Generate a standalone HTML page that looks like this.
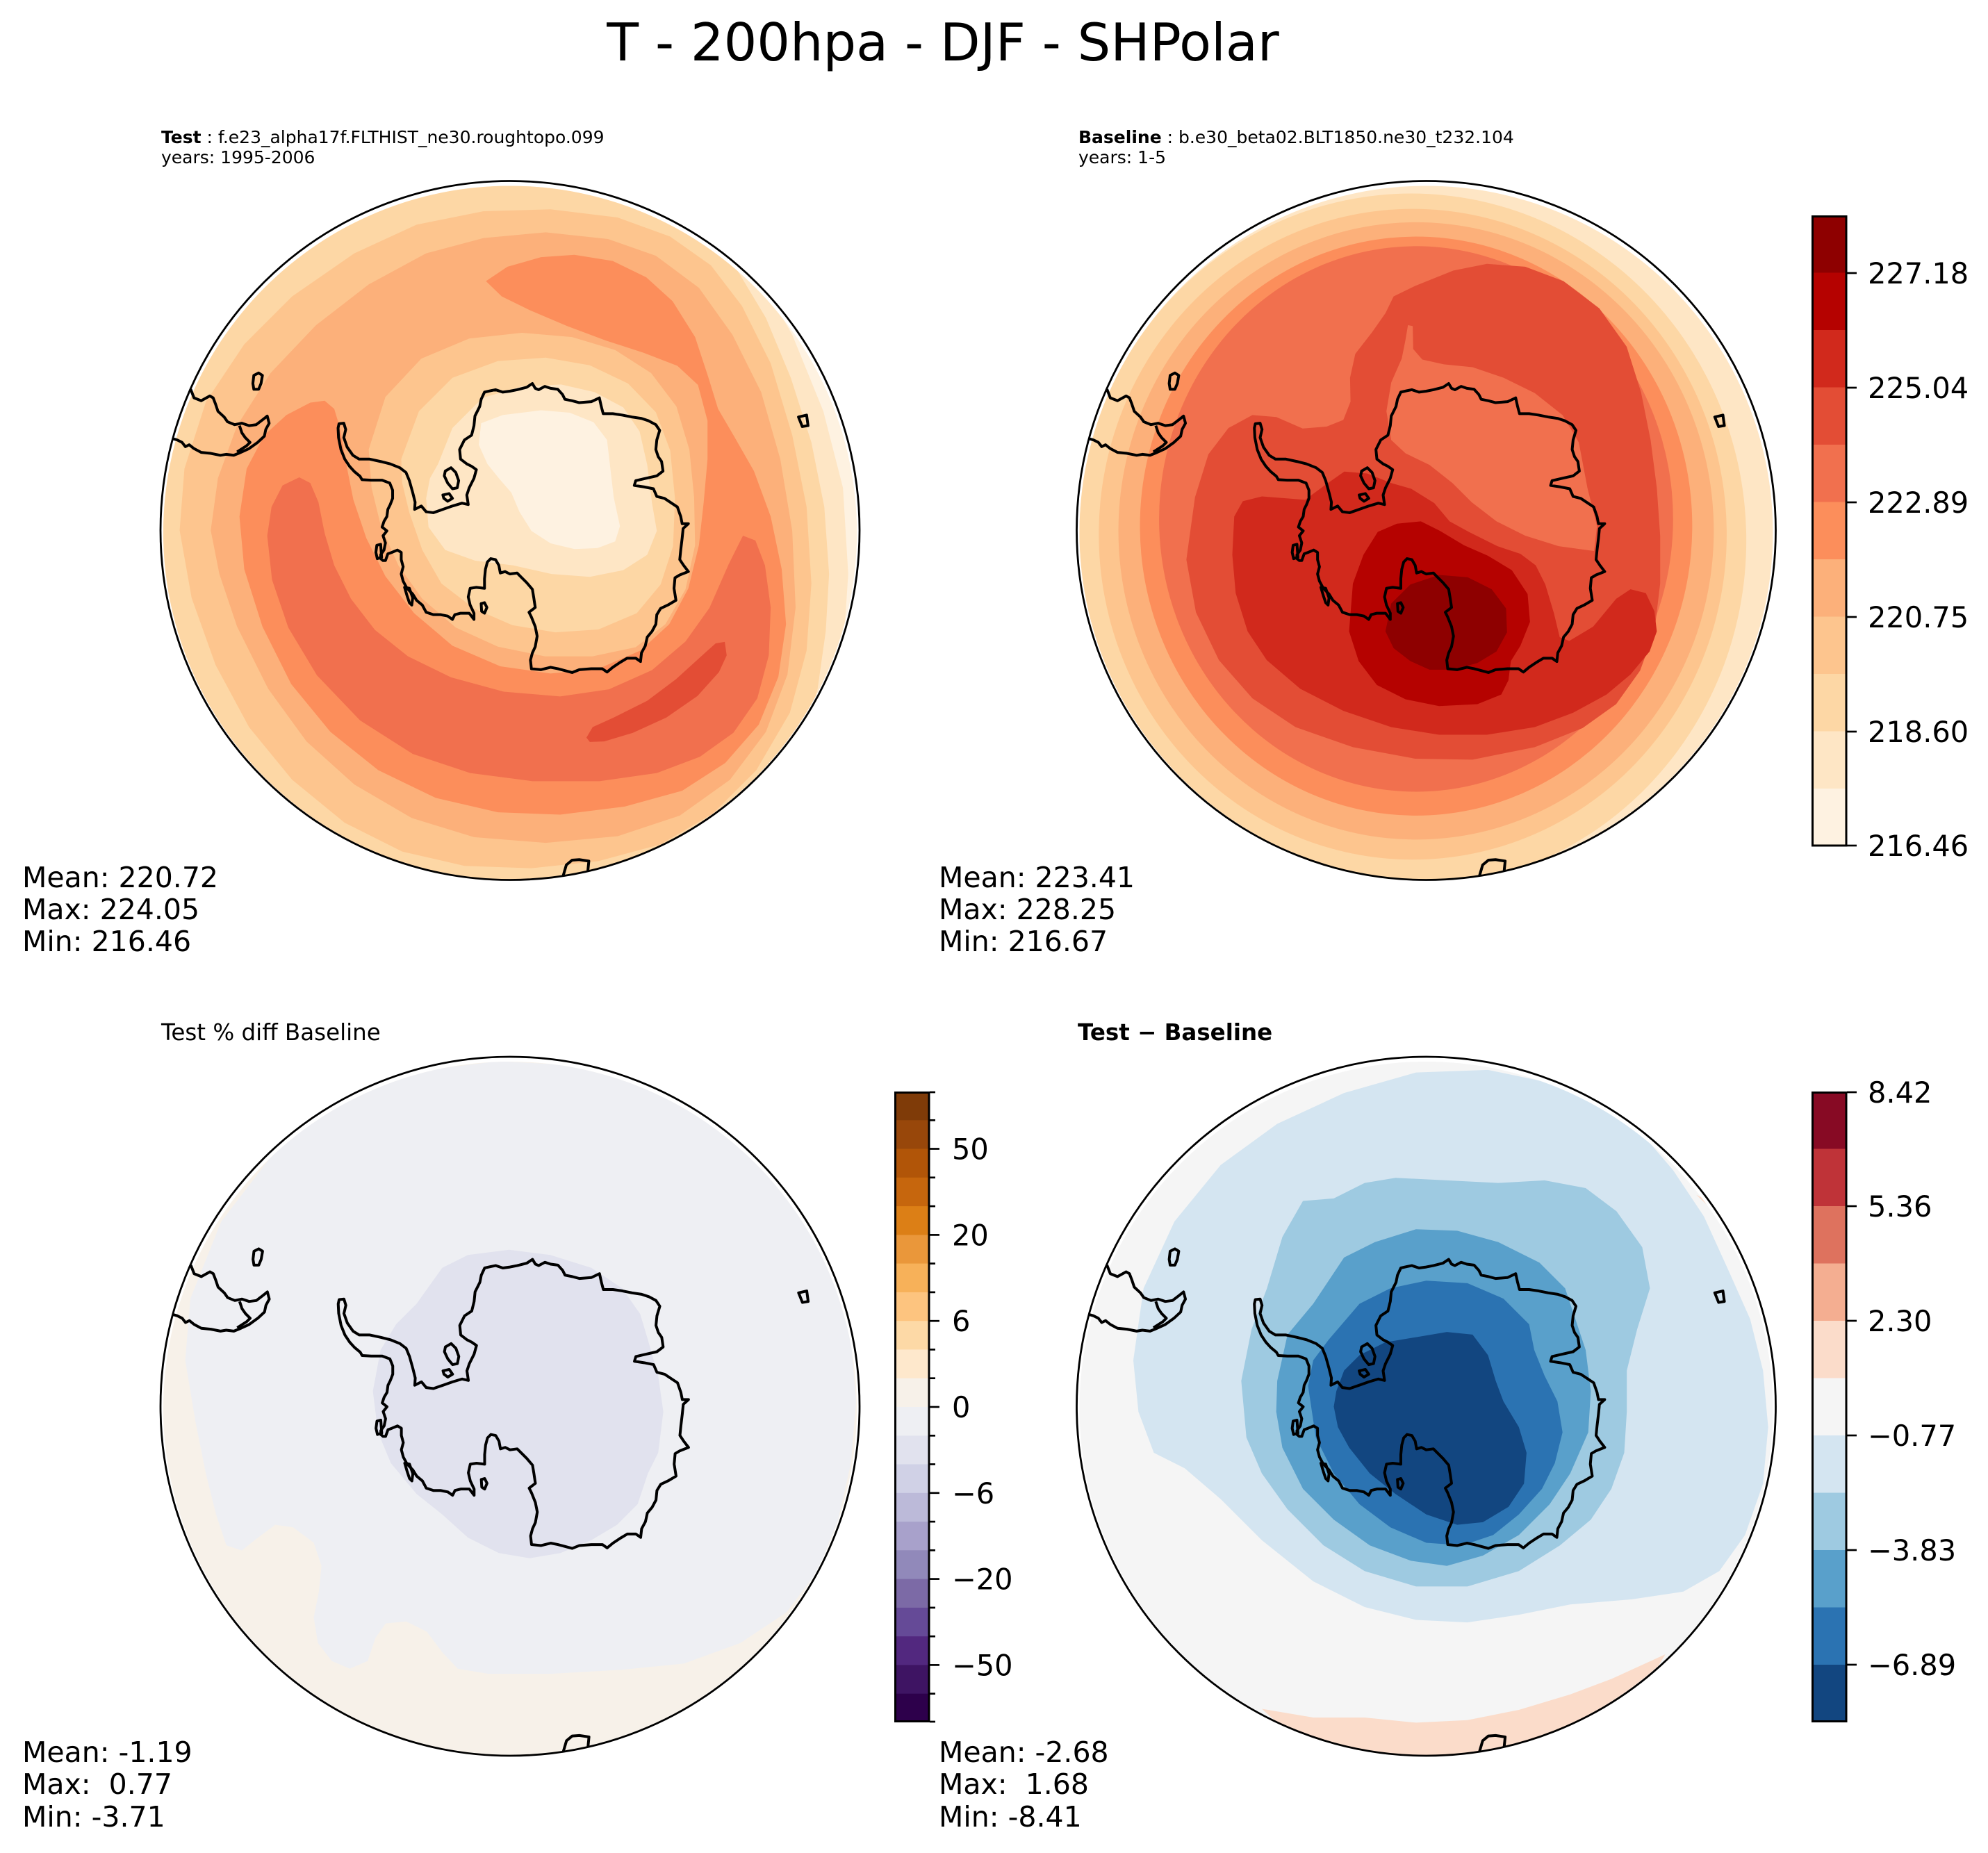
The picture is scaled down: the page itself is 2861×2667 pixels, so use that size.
<!DOCTYPE html>
<html><head><meta charset="utf-8"><style>
html,body{margin:0;padding:0;background:#fff;}
svg{display:block;}
text{font-family:"DejaVu Sans","Liberation Sans",sans-serif;fill:#000;}
</style></head><body>
<svg width="2861" height="2667" viewBox="0 0 2861 2667" xmlns="http://www.w3.org/2000/svg">
<defs>
<clipPath id="cTL"><circle cx="734" cy="766.5" r="499"/></clipPath>
<clipPath id="cTR"><circle cx="2052.5" cy="766.5" r="499"/></clipPath>
<clipPath id="cBL"><circle cx="734" cy="2027" r="499"/></clipPath>
<clipPath id="cBR"><circle cx="2052.5" cy="2027" r="499"/></clipPath>
<clipPath id="oTL"><circle cx="734" cy="763.5" r="503"/></clipPath>
<clipPath id="oTR"><circle cx="2052.5" cy="763.5" r="503"/></clipPath>
<clipPath id="oBL"><circle cx="734" cy="2024" r="503"/></clipPath>
<clipPath id="oBR"><circle cx="2052.5" cy="2024" r="503"/></clipPath>
<g id="coast" fill="none" stroke="#000" stroke-width="5.8" stroke-linejoin="round">
<path d="M418,566 L428,565 L432,578 L428,595 L435,615 L447,632 L460,640 L482,640 L505,645 L525,650 L545,658 L558,668 L565,685 L572,710 L577,730 L576,745 L590,738 L600,750 L615,752 L635,745 L655,738 L675,732 L688,735 L685,715 L690,700 L700,680 L705,662 L695,655 L685,650 L672,640 L670,620 L680,600 L695,590 L700,570 L702,550 L712,530 L715,515 L722,500 L735,497 L745,495 L760,500 L775,498 L790,495 L810,490 L822,482 L828,492 L835,495 L848,488 L860,492 L875,494 L885,505 L890,515 L905,518 L920,522 L945,520 L962,512 L966,530 L970,545 L990,545 L1010,548 L1030,552 L1050,555 L1065,560 L1080,568 L1088,580 L1082,600 L1080,620 L1085,635 L1092,645 L1095,665 L1082,675 L1060,680 L1038,685 L1035,695 L1055,698 L1075,702 L1082,718 L1098,722 L1110,730 L1125,740 L1132,760 L1135,775 L1148,775 L1137,785 L1135,805 L1132,830 L1130,850 L1138,862 L1148,875 L1130,882 L1120,888 L1118,910 L1122,935 L1105,945 L1090,952 L1082,965 L1080,985 L1072,1000 L1062,1012 L1058,1030 L1050,1045 L1048,1063 L1038,1056 L1020,1056 L1005,1065 L990,1075 L978,1085 L968,1078 L945,1078 L920,1080 L905,1086 L890,1082 L875,1078 L860,1075 L840,1080 L820,1078 L818,1060 L822,1045 L828,1032 L832,1010 L828,990 L820,970 L815,960 L828,950 L825,930 L822,912 L810,898 L800,888 L790,878 L775,880 L765,875 L755,878 L752,862 L745,850 L735,848 L728,855 L724,870 L722,890 L722,910 L705,908 L692,910 L688,928 L692,945 L700,962 L700,975 L690,962 L672,962 L660,965 L655,975 L645,968 L630,965 L615,965 L600,960 L592,945 L580,935 L572,922 L560,910 L552,895 L548,880 L552,865 L548,850 L548,835 L540,830 L528,835 L520,838 L515,852 L510,852 L505,848 L505,840 L512,830 L515,815 L510,800 L518,790 L508,782 L512,770 L518,760 L520,745 L525,735 L530,722 L530,705 L524,690 L508,684 L485,684 L466,683 L462,676 L450,666 L440,655 L430,640 L422,620 L417,595 L416,575 Z"/>
<path d="M640,665 L652,658 L662,668 L668,685 L665,700 L655,702 L645,690 L638,675 Z"/>
<path d="M635,715 L648,712 L655,722 L645,728 L637,722 Z"/>
<path d="M497,820 L505,818 L507,845 L498,848 L495,835 Z"/>
<path d="M555,908 L565,910 L572,930 L570,945 L565,940 L560,925 Z"/>
<path d="M715,942 L722,940 L727,950 L722,962 L716,958 Z"/>
<path d="M108,494 L115,512 L130,518 L148,508 L155,512 L160,525 L165,540 L178,552 L185,562 L200,568 L215,565 L230,570 L245,568 L258,558 L268,550 L272,565 L265,578 L262,592 L248,605 L230,618 L208,628 L198,632 L182,630 L170,632 L150,628 L130,626 L115,618 L105,610 L97,614 L90,605 L80,600 L66,596"/>
<path d="M210,570 L215,585 L222,595 L232,605 L225,612 L205,625"/>
<path d="M240,465 L250,460 L258,465 L255,482 L250,494 L240,494 L238,482 Z"/>
<path d="M1378,552 L1395,548 L1398,570 L1386,572 Z"/>
<path d="M886,1512 L893,1488 L905,1478 L920,1477 L940,1480 L938,1500"/>
</g>
</defs>

<!-- Title -->
<text x="1357" y="87" text-anchor="middle" font-size="75">T - 200hpa - DJF - SHPolar</text>

<!-- Headers -->
<text x="232" y="206" font-size="25"><tspan font-weight="bold">Test</tspan> : f.e23_alpha17f.FLTHIST_ne30.roughtopo.099</text>
<text x="232" y="235" font-size="25">years: 1995-2006</text>
<text x="1552" y="206" font-size="25"><tspan font-weight="bold">Baseline</tspan> : b.e30_beta02.BLT1850.ne30_t232.104</text>
<text x="1552" y="235" font-size="25">years: 1-5</text>
<text x="232" y="1497" font-size="32.5">Test % diff Baseline</text>
<text x="1551" y="1497" font-size="32.5" font-weight="bold">Test − Baseline</text>

<!-- ============ TOP-LEFT MAP ============ -->
<g clip-path="url(#cTL)">
<g transform="translate(200,220) scale(0.68875)">
<circle cx="775" cy="789" r="760" fill="#fee6c5"/>
<path fill="#fef2e1" d="M1290,250 L1365,380 L1430,540 L1471,700 L1482,880 L1472,1030 L1540,1030 L1540,250 Z"/>
<path fill="#fdd7a5" d="M30,789 L40,600 L100,430 L200,300 L320,200 L460,120 L600,80 L760,68 L900,72 L1040,100 L1160,160 L1250,245 L1310,345 L1362,470 L1405,605 L1432,740 L1442,880 L1435,1000 L1418,1120 L1385,1240 L1325,1350 L1240,1440 L1120,1510 L980,1545 L775,1560 L560,1530 L400,1470 L260,1370 L150,1240 L70,1080 L35,940 Z"/>
<path fill="#fdc58e" d="M85,789 L95,660 L140,520 L220,400 L320,300 L450,210 L580,150 L720,122 L860,118 L1000,135 L1110,175 L1195,235 L1260,320 L1320,440 L1365,590 L1395,740 L1405,900 L1395,1040 L1360,1170 L1290,1290 L1200,1380 L1090,1445 L960,1480 L820,1495 L680,1490 L550,1460 L430,1400 L320,1310 L230,1200 L160,1070 L110,930 Z"/>
<path fill="#fcb07a" d="M150,789 L165,680 L205,570 L275,460 L370,360 L480,275 L600,210 L720,178 L850,166 L980,180 L1080,215 L1170,282 L1240,380 L1300,500 L1340,640 L1365,790 L1372,950 L1355,1090 L1310,1210 L1235,1310 L1130,1385 L1000,1428 L850,1442 L700,1430 L570,1390 L450,1320 L350,1230 L270,1120 L205,990 L168,880 Z"/>
<path fill="#fc8e5b" d="M725,268 L770,238 L840,218 L910,213 L990,226 L1060,260 L1115,310 L1162,385 L1190,470 L1210,535 L1245,595 L1285,665 L1320,760 L1343,870 L1352,985 L1336,1095 L1295,1195 L1225,1275 L1135,1333 L1015,1366 L880,1383 L750,1378 L620,1348 L500,1290 L400,1210 L318,1110 L258,990 L220,870 L210,760 L225,660 L262,590 L308,548 L358,522 L388,518 L408,535 L420,575 L432,645 L448,725 L475,805 L515,885 L575,962 L655,1030 L755,1073 L860,1088 L960,1078 L1048,1040 L1108,985 L1148,910 L1170,820 L1180,730 L1188,640 L1188,560 L1168,485 L1125,445 L1055,418 L975,392 L895,362 L815,328 L758,300 Z"/>
<path fill="#f1704e" d="M300,695 L335,678 L358,690 L375,730 L388,795 L408,862 L443,932 L493,997 L562,1052 L652,1096 L762,1126 L880,1136 L982,1121 L1072,1081 L1142,1021 L1192,951 L1232,860 L1262,800 L1288,810 L1308,862 L1320,950 L1316,1050 L1292,1140 L1242,1212 L1172,1262 L1082,1296 L962,1313 L822,1313 L692,1296 L572,1256 L462,1186 L372,1092 L312,992 L278,892 L268,800 L277,740 Z"/>
<path fill="#e34d35" d="M935,1222 L948,1200 L992,1180 L1062,1145 L1122,1100 L1177,1050 L1205,1025 L1224,1022 L1228,1050 L1212,1085 L1167,1135 L1102,1180 L1032,1212 L972,1230 L942,1231 Z"/>
<path fill="#fdc58e" d="M480,620 L515,510 L590,430 L690,388 L800,376 L905,385 L995,412 L1070,460 L1123,530 L1150,620 L1160,720 L1162,820 L1142,912 L1100,985 L1038,1033 L948,1052 L848,1052 L750,1032 L662,992 L592,932 L542,862 L506,782 L486,700 Z"/>
<path fill="#fdd7a5" d="M548,640 L585,540 L655,470 L750,435 L850,428 L942,444 L1022,482 L1080,542 L1110,622 L1120,722 L1116,822 L1090,902 L1040,962 L960,996 L870,1002 L780,987 L700,952 L632,900 L592,830 L565,752 L550,690 Z"/>
<path fill="#fee6c5" d="M625,650 L655,575 L718,512 L800,488 L882,484 L952,500 L1012,532 L1046,582 L1062,652 L1072,732 L1082,790 L1062,840 L1012,872 L942,886 L862,880 L782,862 L702,852 L640,830 L605,782 L600,722 L608,680 Z"/>
<path fill="#fef2e1" d="M715,565 L760,548 L840,538 L900,543 L950,563 L978,600 L985,660 L992,720 L1005,780 L995,812 L958,826 L910,828 L860,816 L820,790 L795,750 L778,710 L752,680 L728,650 L710,610 Z"/>
</g>
</g>
<g clip-path="url(#oTL)"><use href="#coast" transform="translate(200,220) scale(0.68875)"/></g>
<circle cx="734" cy="763.5" r="503" fill="none" stroke="#000" stroke-width="2.8"/>

<!-- ============ TOP-RIGHT MAP ============ -->
<g clip-path="url(#cTR)">
<g transform="translate(1520,220) scale(0.68875)">
<circle cx="773" cy="789" r="760" fill="#fee6c5"/>
<ellipse cx="742" cy="810" rx="700" ry="725" fill="#fdd7a5"/>
<ellipse cx="745" cy="797" rx="656" ry="680" fill="#fdc58e"/>
<ellipse cx="752" cy="790" rx="622" ry="645" fill="#fcb07a"/>
<ellipse cx="752" cy="780" rx="577" ry="605" fill="#fc8e5b"/>
<ellipse cx="752" cy="765" rx="537" ry="570" fill="#f1704e"/>
<path fill="#e34d35" d="M290,720 L318,630 L360,575 L410,548 L460,552 L515,576 L565,572 L600,558 L615,520 L614,470 L625,420 L660,375 L688,335 L705,300 L750,278 L830,246 L900,232 L980,238 L1060,268 L1135,325 L1192,405 L1222,500 L1242,600 L1255,700 L1262,800 L1262,900 L1250,1000 L1220,1082 L1170,1152 L1100,1202 L1000,1242 L870,1268 L750,1266 L620,1242 L500,1200 L410,1140 L340,1060 L292,960 L272,850 Z"/>
<path fill="#f1704e" d="M735,360 L745,362 L746,410 L765,432 L810,442 L870,448 L935,470 L1000,502 L1058,548 L1092,605 L1110,700 L1130,780 L1124,832 L1050,822 L980,800 L920,770 L868,730 L828,690 L780,652 L730,628 L700,600 L690,540 L700,480 L722,430 L730,390 Z"/>
<path fill="#d1291c" d="M368,840 L372,760 L390,728 L430,718 L520,725 L565,692 L602,666 L650,670 L700,690 L742,702 L790,732 L822,770 L862,792 L922,822 L970,838 L1002,862 L1022,902 L1040,962 L1052,1012 L1072,1020 L1122,990 L1170,932 L1200,912 L1232,920 L1250,958 L1255,1000 L1240,1042 L1200,1090 L1150,1132 L1080,1170 L1000,1200 L900,1216 L800,1216 L700,1200 L600,1166 L510,1120 L440,1060 L400,1000 L375,920 Z"/>
<path fill="#b50200" d="M612,1000 L620,900 L642,840 L672,792 L712,775 L762,770 L802,790 L852,820 L902,842 L952,872 L985,922 L990,980 L970,1030 L950,1062 L945,1102 L930,1132 L880,1152 L800,1156 L730,1142 L670,1112 L632,1062 Z"/>
<path fill="#8e0000" d="M688,1000 L700,942 L740,902 L800,882 L860,887 L910,912 L940,952 L942,1002 L920,1042 L880,1066 L830,1080 L780,1080 L740,1062 L705,1035 Z"/>
</g>
</g>
<g clip-path="url(#oTR)"><use href="#coast" transform="translate(1518.7,220) scale(0.68875)"/></g>
<circle cx="2052.5" cy="763.5" r="503" fill="none" stroke="#000" stroke-width="2.8"/>

<!-- ============ BOTTOM-LEFT MAP ============ -->
<g clip-path="url(#cBL)">
<g transform="translate(200,1440) scale(0.73981)">
<circle cx="722" cy="789" r="720" fill="#f7f1e9"/>
<path fill="#eeeff3" d="M90,700 L100,580 L160,430 L260,300 L380,200 L520,140 L700,118 L880,128 L1040,165 L1150,215 L1230,300 L1300,420 L1350,540 L1385,660 L1395,780 L1385,900 L1360,1010 L1320,1110 L1260,1190 L1170,1250 L1060,1290 L940,1302 L800,1310 L680,1310 L620,1300 L590,1268 L560,1228 L520,1208 L480,1212 L460,1240 L445,1285 L410,1300 L375,1285 L348,1250 L340,1200 L350,1150 L355,1100 L340,1055 L300,1025 L265,1020 L225,1050 L200,1070 L170,1060 L150,1000 L130,920 L110,820 Z"/>
<path fill="#e1e2ee" d="M455,760 L470,680 L500,630 L540,590 L590,520 L640,495 L720,485 L800,495 L880,520 L940,560 L975,610 L990,660 L1010,730 L1020,800 L1010,880 L990,920 L970,980 L930,1020 L880,1050 L820,1075 L760,1085 L700,1075 L640,1045 L590,1000 L540,960 L490,900 L465,840 Z"/>
</g>
</g>
<g clip-path="url(#oBL)"><use href="#coast" transform="translate(200.2,1480.6) scale(0.68875)"/></g>
<circle cx="734" cy="2024" r="503" fill="none" stroke="#000" stroke-width="2.8"/>

<!-- ============ BOTTOM-RIGHT MAP ============ -->
<g clip-path="url(#cBR)">
<g transform="translate(1520,1440) scale(0.73981)">
<circle cx="720" cy="789" r="720" fill="#f5f5f5"/>
<path fill="#fbdcca" d="M400,1378 L500,1395 L600,1395 L700,1405 L800,1400 L900,1380 L1000,1350 L1080,1320 L1185,1272 L1150,1330 L1050,1400 L950,1450 L850,1475 L720,1490 L600,1480 L480,1450 Z"/>
<path fill="#fbdcca" d="M1245,378 L1290,420 L1322,480 L1346,540 L1356,565 L1380,560 L1340,470 L1290,400 Z"/>
<path fill="#d4e5f1" d="M150,700 L170,560 L230,430 L320,320 L430,240 L560,180 L700,140 L840,135 L960,160 L1060,200 L1140,260 L1200,330 L1260,420 L1310,530 L1350,620 L1375,720 L1385,830 L1375,940 L1340,1040 L1290,1110 L1220,1150 L1120,1165 L1000,1175 L900,1195 L800,1210 L700,1205 L600,1180 L500,1130 L400,1050 L320,970 L250,910 L190,880 L160,800 Z"/>
<path fill="#9ecae1" d="M360,740 L380,640 L410,560 L440,460 L480,390 L540,385 L600,355 L660,345 L760,350 L860,355 L950,350 L1030,365 L1090,410 L1140,480 L1155,560 L1130,640 L1110,720 L1110,800 L1105,880 L1080,950 L1040,1010 L980,1060 L900,1110 L800,1140 L700,1140 L600,1110 L520,1060 L450,990 L400,920 L370,850 Z"/>
<path fill="#59a0cb" d="M430,740 L450,650 L500,590 L560,500 L620,470 L700,445 L780,448 L860,470 L940,510 L990,560 L1010,620 L1030,680 L1040,760 L1035,840 L1000,920 L960,980 L900,1040 L830,1080 L760,1100 L690,1090 L610,1060 L540,1010 L480,950 L440,870 L428,800 Z"/>
<path fill="#2b73b2" d="M490,750 L500,700 L530,660 L590,590 L650,560 L720,545 L800,550 L870,580 L920,630 L930,680 L950,730 L975,780 L985,840 L970,900 L945,950 L900,1000 L850,1040 L790,1060 L720,1055 L650,1025 L590,980 L540,920 L505,850 Z"/>
<path fill="#124680" d="M540,790 L545,760 L560,720 L590,690 L640,665 L700,655 L760,645 L810,650 L840,690 L855,740 L870,780 L900,830 L915,880 L910,940 L880,985 L830,1015 L780,1020 L720,1000 L660,960 L610,920 L570,870 L548,830 Z"/>
</g>
</g>
<g clip-path="url(#oBR)"><use href="#coast" transform="translate(1518.7,1480.6) scale(0.68875)"/></g>
<circle cx="2052.5" cy="2024" r="503" fill="none" stroke="#000" stroke-width="2.8"/>

<!-- ============ COLORBAR TOP-RIGHT (OrRd) ============ -->
<g>
<rect x="2608" y="310" width="50" height="83" fill="#8e0000"/>
<rect x="2608" y="392.5" width="50" height="83" fill="#b50200"/>
<rect x="2608" y="475" width="50" height="83" fill="#d1291c"/>
<rect x="2608" y="557.5" width="50" height="83" fill="#e34d35"/>
<rect x="2608" y="640" width="50" height="83" fill="#f1704e"/>
<rect x="2608" y="722.5" width="50" height="83" fill="#fc8e5b"/>
<rect x="2608" y="805" width="50" height="83" fill="#fcb07a"/>
<rect x="2608" y="887.5" width="50" height="83" fill="#fdc58e"/>
<rect x="2608" y="970" width="50" height="83" fill="#fdd7a5"/>
<rect x="2608" y="1052.5" width="50" height="83" fill="#fee6c5"/>
<rect x="2608" y="1135" width="50" height="83" fill="#fef2e1"/>
<rect x="2608.5" y="311.5" width="48.5" height="905.5" fill="none" stroke="#000" stroke-width="3"/>
<g stroke="#000" stroke-width="2.7">
<line x1="2658" y1="393" x2="2672" y2="393"/>
<line x1="2658" y1="558" x2="2672" y2="558"/>
<line x1="2658" y1="723" x2="2672" y2="723"/>
<line x1="2658" y1="888" x2="2672" y2="888"/>
<line x1="2658" y1="1053" x2="2672" y2="1053"/>
<line x1="2658" y1="1217" x2="2672" y2="1217"/>
</g>
<g font-size="41.5">
<text x="2688" y="408">227.18</text>
<text x="2688" y="573">225.04</text>
<text x="2688" y="738">222.89</text>
<text x="2688" y="903">220.75</text>
<text x="2688" y="1068">218.60</text>
<text x="2688" y="1232">216.46</text>
</g>
</g>

<!-- ============ COLORBAR BOTTOM-LEFT (PuOr) ============ -->
<g>
<rect x="1288" y="1571" width="50" height="42" fill="#7f3b08"/>
<rect x="1288" y="1612.3" width="50" height="42" fill="#98470a"/>
<rect x="1288" y="1653.5" width="50" height="42" fill="#b15508"/>
<rect x="1288" y="1694.8" width="50" height="42" fill="#c6660d"/>
<rect x="1288" y="1736.1" width="50" height="42" fill="#dc7f16"/>
<rect x="1288" y="1777.4" width="50" height="42" fill="#ea973a"/>
<rect x="1288" y="1818.6" width="50" height="42" fill="#f7b159"/>
<rect x="1288" y="1859.9" width="50" height="42" fill="#fdc47f"/>
<rect x="1288" y="1901.2" width="50" height="42" fill="#fdd9a6"/>
<rect x="1288" y="1942.4" width="50" height="42" fill="#fee8cc"/>
<rect x="1288" y="1983.7" width="50" height="42" fill="#f7f1e9"/>
<rect x="1288" y="2025" width="50" height="42" fill="#eeeff3"/>
<rect x="1288" y="2066.3" width="50" height="42" fill="#e1e2ee"/>
<rect x="1288" y="2107.5" width="50" height="42" fill="#d0d1e6"/>
<rect x="1288" y="2148.8" width="50" height="42" fill="#bcbad9"/>
<rect x="1288" y="2190.1" width="50" height="42" fill="#a8a1cb"/>
<rect x="1288" y="2231.3" width="50" height="42" fill="#9189ba"/>
<rect x="1288" y="2272.6" width="50" height="42" fill="#7c6aa6"/>
<rect x="1288" y="2313.9" width="50" height="42" fill="#654a97"/>
<rect x="1288" y="2355.2" width="50" height="42" fill="#52287f"/>
<rect x="1288" y="2396.4" width="50" height="42" fill="#3e1463"/>
<rect x="1288" y="2437.7" width="50" height="41.3" fill="#2d004b"/>
<rect x="1288.5" y="1572.5" width="48.5" height="905" fill="none" stroke="#000" stroke-width="3"/>
<g stroke="#000" stroke-width="2.7">
<line x1="1338" y1="1572" x2="1346" y2="1572"/>
<line x1="1338" y1="1612.3" x2="1346" y2="1612.3"/>
<line x1="1338" y1="1653.5" x2="1352" y2="1653.5"/>
<line x1="1338" y1="1694.8" x2="1346" y2="1694.8"/>
<line x1="1338" y1="1736.1" x2="1346" y2="1736.1"/>
<line x1="1338" y1="1777.4" x2="1352" y2="1777.4"/>
<line x1="1338" y1="1818.6" x2="1346" y2="1818.6"/>
<line x1="1338" y1="1859.9" x2="1346" y2="1859.9"/>
<line x1="1338" y1="1901.2" x2="1352" y2="1901.2"/>
<line x1="1338" y1="1942.4" x2="1346" y2="1942.4"/>
<line x1="1338" y1="1983.7" x2="1346" y2="1983.7"/>
<line x1="1338" y1="2025" x2="1352" y2="2025"/>
<line x1="1338" y1="2066.3" x2="1346" y2="2066.3"/>
<line x1="1338" y1="2107.5" x2="1346" y2="2107.5"/>
<line x1="1338" y1="2148.8" x2="1352" y2="2148.8"/>
<line x1="1338" y1="2190.1" x2="1346" y2="2190.1"/>
<line x1="1338" y1="2231.3" x2="1346" y2="2231.3"/>
<line x1="1338" y1="2272.6" x2="1352" y2="2272.6"/>
<line x1="1338" y1="2313.9" x2="1346" y2="2313.9"/>
<line x1="1338" y1="2355.2" x2="1346" y2="2355.2"/>
<line x1="1338" y1="2396.4" x2="1352" y2="2396.4"/>
<line x1="1338" y1="2437.7" x2="1346" y2="2437.7"/>
<line x1="1338" y1="2478" x2="1346" y2="2478"/>
</g>
<g font-size="41.5">
<text x="1370" y="1668.5">50</text>
<text x="1370" y="1792.4">20</text>
<text x="1370" y="1916.2">6</text>
<text x="1370" y="2040">0</text>
<text x="1370" y="2163.8">−6</text>
<text x="1370" y="2287.6">−20</text>
<text x="1370" y="2411.4">−50</text>
</g>
</g>

<!-- ============ COLORBAR BOTTOM-RIGHT (RdBu_r) ============ -->
<g>
<rect x="2608" y="1571" width="50" height="83" fill="#870a24"/>
<rect x="2608" y="1653.5" width="50" height="83" fill="#bf3338"/>
<rect x="2608" y="1736" width="50" height="83" fill="#de725e"/>
<rect x="2608" y="1818.5" width="50" height="83" fill="#f4ae91"/>
<rect x="2608" y="1901" width="50" height="83" fill="#fbdcca"/>
<rect x="2608" y="1983.5" width="50" height="83" fill="#f5f5f5"/>
<rect x="2608" y="2066" width="50" height="83" fill="#d4e5f1"/>
<rect x="2608" y="2148.5" width="50" height="83" fill="#9ecae1"/>
<rect x="2608" y="2231" width="50" height="83" fill="#59a0cb"/>
<rect x="2608" y="2313.5" width="50" height="83" fill="#2b73b2"/>
<rect x="2608" y="2396" width="50" height="83" fill="#124680"/>
<rect x="2608.5" y="1572.5" width="48.5" height="905" fill="none" stroke="#000" stroke-width="3"/>
<g stroke="#000" stroke-width="2.7">
<line x1="2658" y1="1572" x2="2672" y2="1572"/>
<line x1="2658" y1="1736" x2="2672" y2="1736"/>
<line x1="2658" y1="1901" x2="2672" y2="1901"/>
<line x1="2658" y1="2066" x2="2672" y2="2066"/>
<line x1="2658" y1="2231" x2="2672" y2="2231"/>
<line x1="2658" y1="2396" x2="2672" y2="2396"/>
</g>
<g font-size="41.5">
<text x="2688" y="1587">8.42</text>
<text x="2688" y="1751">5.36</text>
<text x="2688" y="1916">2.30</text>
<text x="2688" y="2081">−0.77</text>
<text x="2688" y="2246">−3.83</text>
<text x="2688" y="2411">−6.89</text>
</g>
</g>

<!-- ============ STATS ============ -->
<g font-size="41" style="white-space:pre">
<text x="32" y="1277">Mean: 220.72</text>
<text x="32" y="1323">Max: 224.05</text>
<text x="32" y="1369">Min: 216.46</text>
<text x="1351" y="1277">Mean: 223.41</text>
<text x="1351" y="1323">Max: 228.25</text>
<text x="1351" y="1369">Min: 216.67</text>
<text x="32" y="2536">Mean: -1.19</text>
<text x="32" y="2582" xml:space="preserve">Max:  0.77</text>
<text x="32" y="2629">Min: -3.71</text>
<text x="1351" y="2536">Mean: -2.68</text>
<text x="1351" y="2582" xml:space="preserve">Max:  1.68</text>
<text x="1351" y="2629">Min: -8.41</text>
</g>
</svg>
</body></html>
